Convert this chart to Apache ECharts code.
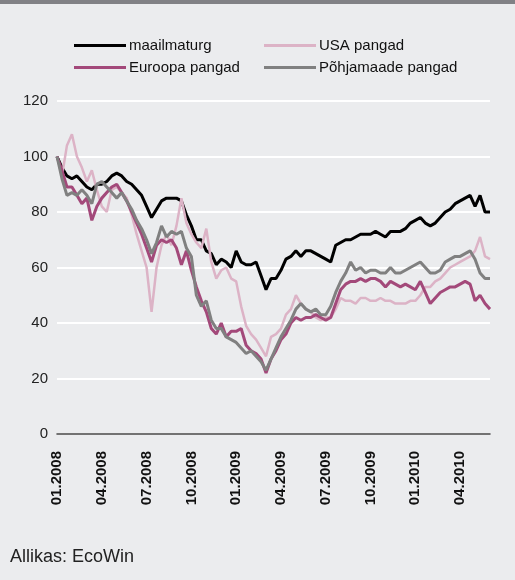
<!DOCTYPE html>
<html>
<head>
<meta charset="utf-8">
<script src="https://cdn.jsdelivr.net/npm/echarts@6/dist/echarts.min.js"></script>
<style>
  html, body { margin: 0; padding: 0; background: #ebecee; }
  #main { width: 515px; height: 580px; }
</style>
</head>
<body>
<div id="main"></div>
<script>
// dates: 1st, 11th, 21st of each month
var dates = [
  '2008-01-01','2008-01-11','2008-01-21','2008-02-01','2008-02-11','2008-02-21','2008-03-01','2008-03-11','2008-03-21',
  '2008-04-01','2008-04-11','2008-04-21','2008-05-01','2008-05-11','2008-05-21','2008-06-01','2008-06-11','2008-06-21',
  '2008-07-01','2008-07-11','2008-07-21','2008-08-01','2008-08-11','2008-08-21','2008-09-01','2008-09-11','2008-09-21',
  '2008-10-01','2008-10-11','2008-10-21','2008-11-01','2008-11-11','2008-11-21','2008-12-01','2008-12-11','2008-12-21',
  '2009-01-01','2009-01-11','2009-01-21','2009-02-01','2009-02-11','2009-02-21','2009-03-01','2009-03-11','2009-03-21',
  '2009-04-01','2009-04-11','2009-04-21','2009-05-01','2009-05-11','2009-05-21','2009-06-01','2009-06-11','2009-06-21',
  '2009-07-01','2009-07-11','2009-07-21','2009-08-01','2009-08-11','2009-08-21','2009-09-01','2009-09-11','2009-09-21',
  '2009-10-01','2009-10-11','2009-10-21','2009-11-01','2009-11-11','2009-11-21','2009-12-01','2009-12-11','2009-12-21',
  '2010-01-01','2010-01-11','2010-01-21','2010-02-01','2010-02-11','2010-02-21','2010-03-01','2010-03-11','2010-03-21',
  '2010-04-01','2010-04-11','2010-04-21','2010-05-01','2010-05-11','2010-05-21','2010-05-28'
]

var maailmaturg = [
  100,96,93, 92,93,91, 89,88,90, 90,91,93, 94,93,91, 90,88,86,
  82,78,81, 84,85,85, 85,84,79, 75,70,70, 66,65,61, 63,62,60,
  66,62,61, 61,62,57, 52,56,56, 59,63,64, 66,64,66, 66,65,64,
  63,62,68, 69,70,70, 71,72,72, 72,73,72, 71,73,73, 73,74,76,
  77,78,76, 75,76,78, 80,81,83, 84,85,86, 82,86,80, 80
]
var usaPangad = [
  100,93,104, 108,100,96, 91,95,88, 82,80,88, 89,87,85, 79,72,66,
  60,44,60, 68,72,68, 75,85,76, 72,69,67, 74,62,56, 59,60,56,
  55,46,39, 36,34,31, 28,35,36, 38,43,45, 50,47,45, 44,42,41,
  42,42,45, 49,48,48, 47,49,49, 48,48,49, 48,48,47, 47,47,48,
  48,50,53, 53,55,56, 58,60,61, 62,63,64, 66,71,64, 63
]
var euroopaPangad = [
  100,95,89, 89,86,83, 85,77,82, 85,87,89, 90,87,84, 80,76,72,
  67,62,68, 70,69,70, 67,61,66, 59,53,48, 44,38,36, 40,35,37,
  37,38,32, 30,29,27, 22,27,30, 34,36,40, 42,41,42, 42,43,42,
  41,42,47, 52,54,55, 55,56,55, 56,56,55, 53,55,54, 53,54,53,
  52,55,51, 47,49,51, 52,53,53, 54,55,54, 48,50,47, 45
]
var pohjamaadePangad = [
  100,92,86, 87,86,88, 86,83,90, 91,89,87, 85,87,84, 81,77,74,
  70,65,69, 75,71,73, 72,73,67, 64,50,46, 48,41,38, 38,35,34,
  33,31,29, 30,28,26, 23,27,31, 35,38,41, 45,47,45, 44,45,43,
  43,46,51, 55,58,62, 59,60,58, 59,59,58, 58,60,58, 58,59,60,
  61,62,60, 58,58,59, 62,63,64, 64,65,66, 63,58,56, 56
]

var font = 'Liberation Sans, Arial, Helvetica, sans-serif'

var chart = echarts.init(document.getElementById('main'))

chart.setOption({
  backgroundColor: '#ebecee',
  animation: false,
  textStyle: { fontFamily: font },
  graphic: [
    { type: 'rect', left: 0, top: 0, shape: { width: 515, height: 4 }, style: { fill: '#818185' } },
    { type: 'text', left: 10, top: 548, style: { text: 'Allikas: EcoWin', fill: '#222', font: '18px ' + font } }
  ],
  legend: [
    {
      left: 69, top: 33, orient: 'vertical', itemGap: 7,
      icon: 'rect', itemWidth: 52, itemHeight: 3,
      textStyle: { fontSize: 15, color: '#111', padding: [0, 0, 0, -2] },
      data: ['maailmaturg', 'Euroopa pangad']
    },
    {
      left: 259, top: 33, orient: 'vertical', itemGap: 7,
      icon: 'rect', itemWidth: 52, itemHeight: 3,
      textStyle: { fontSize: 15, color: '#111', padding: [0, 0, 0, -2] },
      data: ['USA pangad', 'Põhjamaade pangad']
    }
  ],
  grid: { left: 57, right: 25, top: 101, bottom: 146 },
  xAxis: {
    type: 'category',
    boundaryGap: false,
    data: dates,
    axisLine: { lineStyle: { color: '#444', width: 1.5 } },
    axisTick: { show: false },
    axisLabel: {
      rotate: 90,
      margin: 17,
      fontSize: 15,
      fontWeight: 'bold',
      color: '#111',
      interval: function (i, v) { return /-(01|04|07|10)-01$/.test(v) },
      formatter: function (v) { return v.slice(5, 7) + '.' + v.slice(0, 4) }
    }
  },
  yAxis: {
    type: 'value',
    min: 0, max: 120, interval: 20,
    axisLine: { show: false },
    axisTick: { show: false },
    axisLabel: { fontSize: 15, color: '#222', margin: 9 },
    splitLine: { lineStyle: { color: '#ffffff', width: 2 } }
  },
  series: [
    { name: 'maailmaturg', type: 'line', data: maailmaturg, showSymbol: false, color: '#000000', lineStyle: { width: 3 } },
    { name: 'USA pangad', type: 'line', data: usaPangad, showSymbol: false, color: '#dcb3c6', lineStyle: { width: 2.5 } },
    { name: 'Euroopa pangad', type: 'line', data: euroopaPangad, showSymbol: false, color: '#a3497a', lineStyle: { width: 3 } },
    { name: 'Põhjamaade pangad', type: 'line', data: pohjamaadePangad, showSymbol: false, color: '#808080', lineStyle: { width: 3 } }
  ]
})
</script>
</body>
</html>
